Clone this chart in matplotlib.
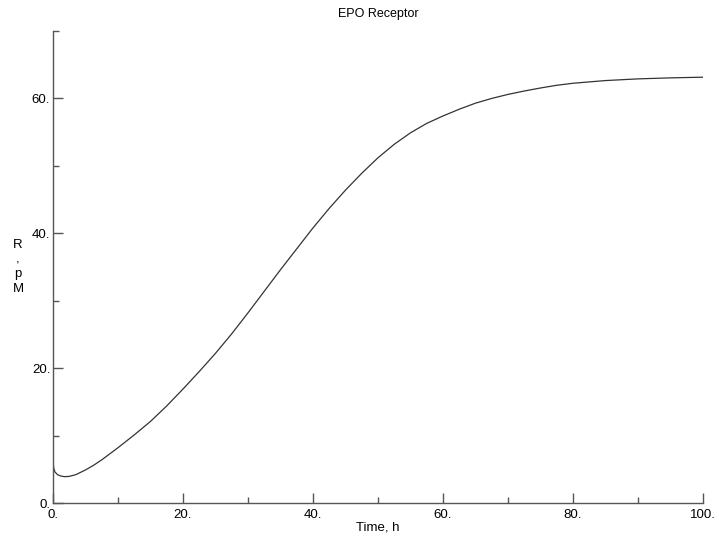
import numpy as np
import matplotlib.pyplot as plt
from matplotlib.ticker import MultipleLocator, FuncFormatter

# receptor level R (pM) over time (h)
time_h = [0, 0.1, 0.3, 0.7, 1.2, 1.8, 2.5, 3.5, 5, 6.25, 7.5, 8.75, 10,
          12.5, 15, 17.5, 20, 22.5, 25, 27.5, 30, 32.5, 35, 37.5, 40, 42.5,
          45, 47.5, 50, 52.5, 55, 57.5, 60, 62.5, 65, 67.5, 70, 72.5, 75,
          77.5, 80, 85, 90, 95, 100]
receptor_pm = [6.4, 5.2, 4.6, 4.2, 4.0, 3.9, 3.95, 4.2, 4.9, 5.6, 6.4, 7.3,
               8.2, 10.1, 12.1, 14.4, 16.9, 19.5, 22.2, 25.1, 28.2, 31.4,
               34.6, 37.7, 40.8, 43.7, 46.4, 48.9, 51.2, 53.2, 54.9, 56.3,
               57.4, 58.4, 59.3, 60.0, 60.6, 61.1, 61.55, 61.95, 62.25,
               62.65, 62.9, 63.05, 63.15]

plt.rcParams['font.family'] = ['Liberation Sans', 'DejaVu Sans']

fig = plt.figure(figsize=(7.19, 5.37), dpi=100)
ax = fig.add_axes([53 / 719, 1 - 503 / 537, 650 / 719, 472 / 537])

ax.plot(time_h, receptor_pm, color='#333333', linewidth=0.9)

ax.set_xlim(0, 100)
ax.set_ylim(0, 70)
for side in ['top', 'right']:
    ax.spines[side].set_visible(False)
for side in ['left', 'bottom']:
    ax.spines[side].set_color('#555555')
    ax.spines[side].set_linewidth(1.0)

ax.xaxis.set_major_locator(MultipleLocator(20))
ax.xaxis.set_minor_locator(MultipleLocator(10))
ax.yaxis.set_major_locator(MultipleLocator(20))
ax.yaxis.set_minor_locator(MultipleLocator(10))
fmt = FuncFormatter(lambda v, pos: f'{int(round(v))}.')
ax.xaxis.set_major_formatter(fmt)
ax.yaxis.set_major_formatter(fmt)
ax.tick_params(which='major', direction='in', length=7, width=1,
               color='#555555', labelsize=9.5, pad=4)
ax.tick_params(which='minor', direction='in', length=4, width=1,
               color='#555555')
ax.tick_params(axis='y', pad=2)

ax.set_title('EPO Receptor', fontsize=9, pad=10)
ax.set_xlabel('Time, h', fontsize=9.5, labelpad=1)
ax.set_ylabel('R\n,\np\nM', rotation=0, fontsize=9.5, linespacing=1.3,
              va='center', ha='center')
ax.yaxis.set_label_coords(-35 / 650, (503 - 267) / 472)

fig.savefig('out.png', dpi=100, facecolor='white')
